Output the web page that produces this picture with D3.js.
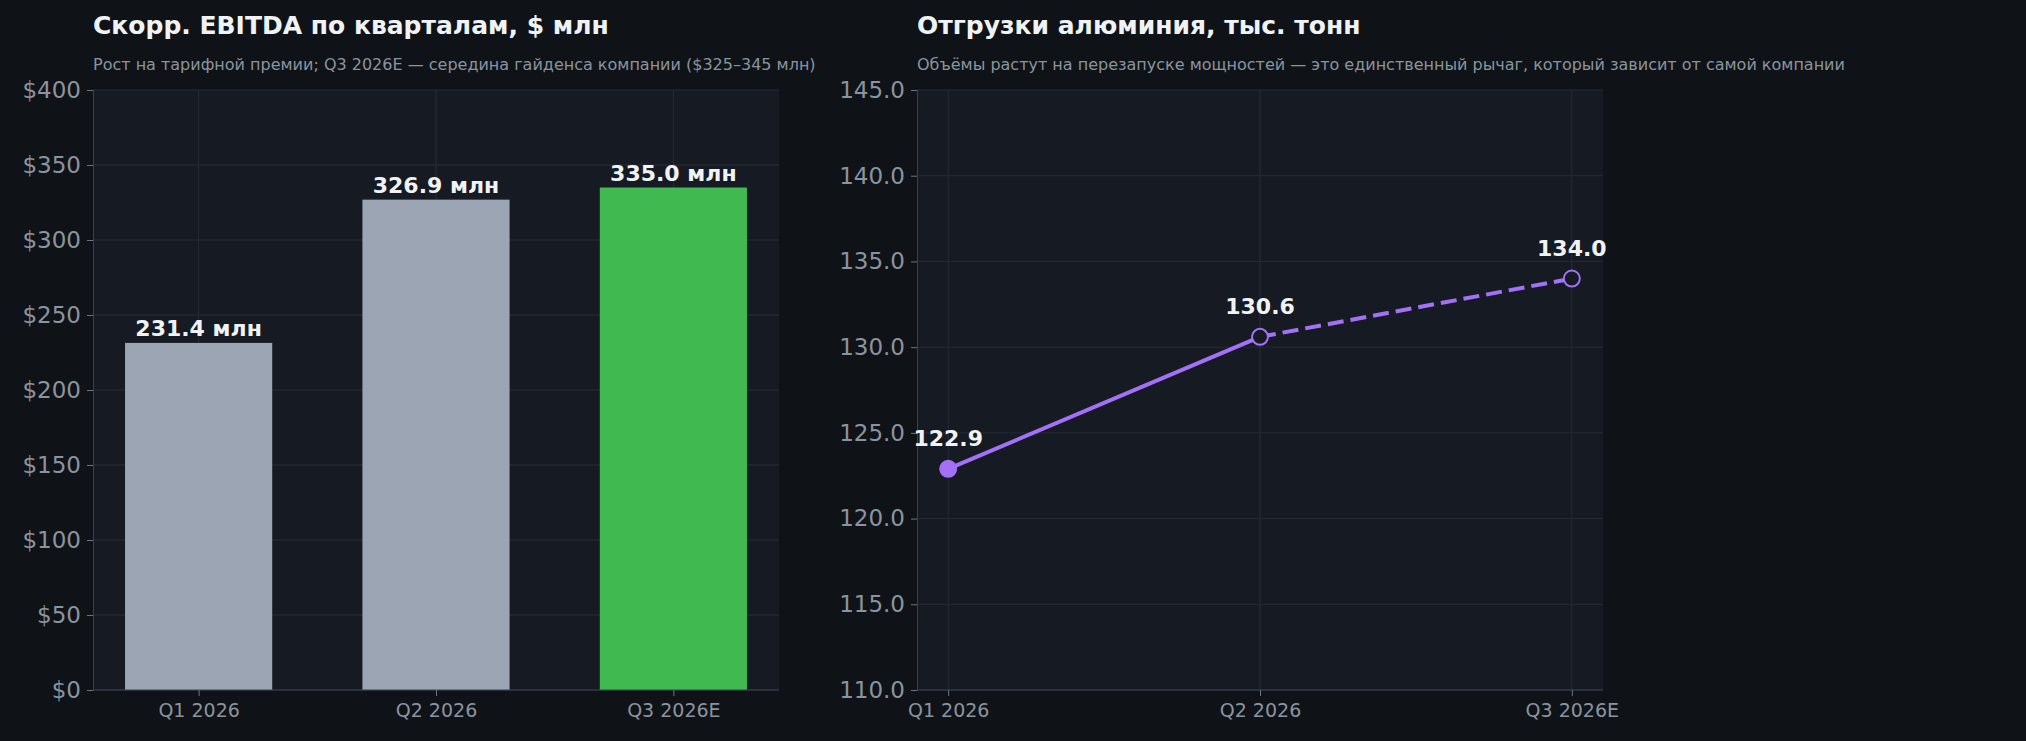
<!DOCTYPE html>
<html><head><meta charset="utf-8">
<script src="https://cdn.jsdelivr.net/npm/d3@7"></script>
<style>body{margin:0;background:#0f1318;font-family:"DejaVu Sans",sans-serif}</style>
</head><body><svg id="c" width="2026" height="741"></svg>
<script>
// values
const quarters = ['Q1 2026', 'Q2 2026', 'Q3 2026E'];
const ebitda = [231.4, 326.9, 335.0];
const shipments = [122.9, 130.6, 134.0];
const ebitdaTicks = [0, 50, 100, 150, 200, 250, 300, 350, 400];
const shipTicks = [110, 115, 120, 125, 130, 135, 140, 145];

const svg = d3.select('#c');
svg.append('rect').attr('width', 2026).attr('height', 741).attr('fill', '#0f1318');

const plotTop = 90, plotBottom = 690;
const left1 = 93, right1 = 779, left2 = 917, right2 = 1603;
const purple = '#a371f7';

function panel(x0, x1, title, sub) {
    svg.append('rect').attr('x', x0).attr('y', plotTop).attr('width', x1 - x0).attr('height', plotBottom - plotTop)
        .attr('fill', '#161a22');
    svg.append('text').attr('x', x0).attr('y', 34).text(title)
        .attr('fill', '#f0f3f6').attr('font-size', 25).attr('font-weight', 'bold');
    svg.append('text').attr('x', x0).attr('y', 70).text(sub)
        .attr('fill', '#8b949e').attr('font-size', 16);
}

function yAxis(y, x0, x1, ticks, fmt) {
    const g = svg.append('g');
    g.selectAll('line.grid').data(ticks).join('line')
        .attr('x1', x0).attr('x2', x1).attr('y1', d => y(d)).attr('y2', d => y(d))
        .attr('stroke', '#262c36').attr('stroke-width', 1);
    const ax = svg.append('g').attr('transform', `translate(${x0},0)`)
        .call(d3.axisLeft(y).tickValues(ticks).tickFormat(fmt).tickSize(6).tickPadding(6));
    ax.select('.domain').attr('stroke', '#3a414c');
    ax.selectAll('line').attr('stroke', '#6e7681');
    ax.selectAll('text').attr('fill', '#8b949e').attr('font-size', 23).attr('font-family', 'DejaVu Sans');
}

function xAxis(x, x0, x1) {
    svg.append('line').attr('x1', x0).attr('x2', x1).attr('y1', plotBottom).attr('y2', plotBottom).attr('stroke', '#3a414c');
    const g = svg.append('g').attr('transform', `translate(0,${plotBottom})`)
        .call(d3.axisBottom(x).tickSize(6).tickPadding(8));
    g.select('.domain').remove();
    g.selectAll('line').attr('stroke', '#6e7681');
    g.selectAll('text').attr('fill', '#8b949e').attr('font-size', 19).attr('font-family', 'DejaVu Sans');
}

// left: bars
panel(left1, right1, 'Скорр. EBITDA по кварталам, $ млн',
    'Рост на тарифной премии; Q3 2026E — середина гайденса компании ($325–345 млн)');
const xb = d3.scaleBand().domain(quarters).range([left1, right1]).paddingInner(0.38).paddingOuter(0.135);
const yb = d3.scaleLinear().domain([0, 400]).range([plotBottom, plotTop]);
svg.append('g').selectAll('line').data(quarters).join('line')
    .attr('x1', d => xb(d) + xb.bandwidth() / 2).attr('x2', d => xb(d) + xb.bandwidth() / 2)
    .attr('y1', plotTop).attr('y2', plotBottom).attr('stroke', '#262c36');
yAxis(yb, left1, right1, ebitdaTicks, d => '$' + d);
svg.append('g').selectAll('rect').data(ebitda).join('rect')
    .attr('x', (d, i) => xb(quarters[i])).attr('width', xb.bandwidth())
    .attr('y', d => yb(d)).attr('height', d => plotBottom - yb(d))
    .attr('fill', (d, i) => i === 2 ? '#3fb950' : '#9ba5b4');
svg.append('g').selectAll('text').data(ebitda).join('text')
    .attr('x', (d, i) => xb(quarters[i]) + xb.bandwidth() / 2).attr('y', d => yb(d) - 7)
    .attr('text-anchor', 'middle').attr('fill', '#f0f3f6').attr('font-size', 22).attr('font-weight', 'bold')
    .text(d => d.toFixed(1) + ' млн');
xAxis(d3.scalePoint().domain(quarters).range([xb(quarters[0]) + xb.bandwidth() / 2, xb(quarters[2]) + xb.bandwidth() / 2]), left1, right1);

// right: line
panel(left2, right2, 'Отгрузки алюминия, тыс. тонн',
    'Объёмы растут на перезапуске мощностей — это единственный рычаг, который зависит от самой компании');
const xp = d3.scalePoint().domain(quarters).range([left2, right2]).padding(0.1);
const yp = d3.scaleLinear().domain([110, 145]).range([plotBottom, plotTop]);
svg.append('g').selectAll('line').data(quarters).join('line')
    .attr('x1', d => xp(d)).attr('x2', d => xp(d)).attr('y1', plotTop).attr('y2', plotBottom).attr('stroke', '#262c36');
yAxis(yp, left2, right2, shipTicks, d3.format('.1f'));
xAxis(xp, left2, right2);
const line = d3.line().x((d, i) => xp(quarters[i])).y(d => yp(d));
svg.append('path').attr('d', line(shipments.slice(0, 2))).attr('fill', 'none')
    .attr('stroke', purple).attr('stroke-width', 4);
svg.append('path').attr('d', d3.line().x((d, i) => xp(quarters[i + 1])).y(d => yp(d))(shipments.slice(1)))
    .attr('fill', 'none').attr('stroke', purple).attr('stroke-width', 4).attr('stroke-dasharray', '16,7');
svg.append('g').selectAll('circle').data(shipments).join('circle')
    .attr('cx', (d, i) => xp(quarters[i])).attr('cy', d => yp(d)).attr('r', 8)
    .attr('fill', (d, i) => i === 0 ? purple : '#161a22').attr('stroke', purple).attr('stroke-width', 2);
svg.append('g').selectAll('text').data(shipments).join('text')
    .attr('x', (d, i) => xp(quarters[i])).attr('y', d => yp(d) - 23)
    .attr('text-anchor', 'middle').attr('fill', '#f0f3f6').attr('font-size', 22).attr('font-weight', 'bold')
    .text(d => d.toFixed(1));
</script></body></html>
